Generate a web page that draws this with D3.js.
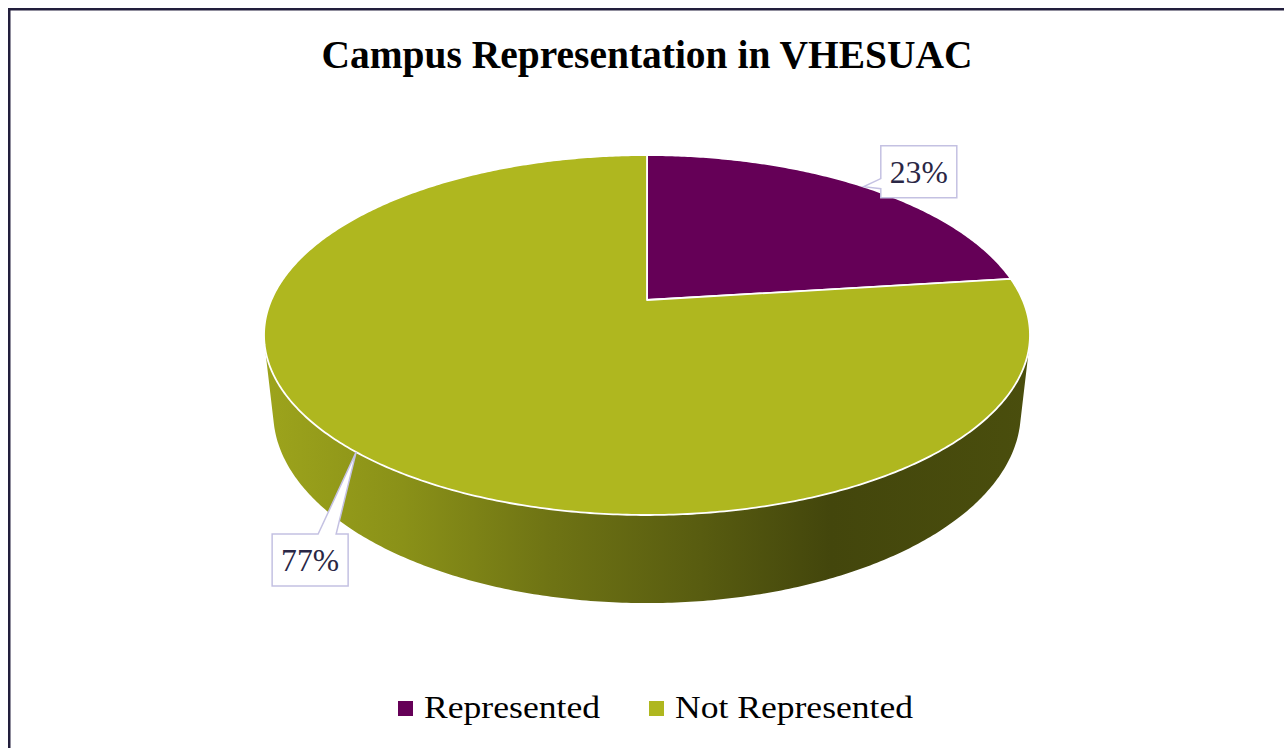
<!DOCTYPE html>
<html>
<head>
<meta charset="utf-8">
<script src="https://cdn.jsdelivr.net/npm/d3@7"></script>
<style>
  body { margin: 0; background: #fff; }
  svg { display: block; }
</style>
</head>
<body>
<div id="chart"></div>
<script>
// chart data
const categories = ["Represented", "Not Represented"];
const values = [23, 77];
const labelTexts = ["23%", "77%"];
const colors = ["#650057", "#afb71f"];

const width = 1284, height = 748;
const fontFamily = "'Palatino Linotype', 'Book Antiqua', Palatino, 'Liberation Serif', serif";

// 3d projection of the pie (tilted disk seen in perspective)
const cx = 647, cy = 300;
const focal = 1713, dist = 4.56;
const sinA = 0.461, cosA = 0.887;
const thick = 0.2345;

function project(theta, r, w) {
  const u = r * Math.sin(theta), v = r * Math.cos(theta);
  const X = u;
  const Y = v * sinA + w * cosA;
  const Z = dist + v * cosA - w * sinA;
  return [cx + focal * X / Z, cy - focal * Y / Z];
}

// angles where the cylinder wall turns away from the camera
const silAngle = Math.acos(-1 / (dist * cosA));
const visStart = silAngle, visEnd = 2 * Math.PI - silAngle;

const svg = d3.select("#chart").append("svg")
  .attr("width", width)
  .attr("height", height);

const defs = svg.append("defs");

const pie = d3.pie().sort(null).value(d => d)(values);

// side wall shading across x
const shadeStops = [0, 0.18, 0.37, 0.57, 0.74, 1];
const shadeDark = [0.3, 0.66, 1.28, 1.94, 2.7, 2.4];

colors.forEach((c, i) => {
  const grad = defs.append("linearGradient")
    .attr("id", "side" + i)
    .attr("gradientUnits", "userSpaceOnUse")
    .attr("x1", 264).attr("y1", 0)
    .attr("x2", 1030).attr("y2", 0);
  shadeStops.forEach((o, j) => {
    grad.append("stop")
      .attr("offset", o)
      .attr("stop-color", d3.color(c).darker(shadeDark[j]).formatHex());
  });
});

function arcPoints(a0, a1, r, w) {
  const n = Math.max(2, Math.ceil(Math.abs(a1 - a0) / 0.01));
  return d3.range(n + 1).map(k => project(a0 + (a1 - a0) * k / n, r, w));
}

const line = d3.line();

// side walls
const sides = svg.append("g");
pie.forEach((d, i) => {
  const a0 = Math.max(d.startAngle, visStart);
  const a1 = Math.min(d.endAngle, visEnd);
  if (a1 <= a0) return;
  const pts = arcPoints(a0, a1, 1, 0).concat(arcPoints(a1, a0, 1, -thick));
  sides.append("path")
    .attr("d", line(pts) + "Z")
    .attr("fill", `url(#side${i})`)
    .attr("stroke", "none");
});

// top faces
const tops = svg.append("g");
pie.forEach((d, i) => {
  const pts = [project(0, 0, 0)].concat(arcPoints(d.startAngle, d.endAngle, 1, 0));
  tops.append("path")
    .attr("d", line(pts) + "Z")
    .attr("fill", colors[i])
    .attr("stroke", "#ffffff")
    .attr("stroke-width", 1.8)
    .attr("stroke-linejoin", "round");
});

// data label callouts
const boxW = 76, boxH = 52;
const labelLayout = [
  { dx: 17, dy: -41, side: "left" },
  { dx: -84, dy: 82, side: "top" }
];

const labels = svg.append("g");
pie.forEach((d, i) => {
  const mid = (d.startAngle + d.endAngle) / 2;
  const tip = project(mid, 1, 0);
  const L = labelLayout[i];
  const bx = tip[0] + L.dx, by = tip[1] + L.dy;
  let pts;
  if (L.side === "left") {
    pts = [[bx, by], [bx + boxW, by], [bx + boxW, by + boxH], [bx, by + boxH],
           [bx, by + 43], tip, [bx, by + 33]];
  } else {
    pts = [[bx, by], [bx + 46, by], tip, [bx + 64, by], [bx + boxW, by],
           [bx + boxW, by + boxH], [bx, by + boxH]];
  }
  labels.append("path")
    .attr("d", line(pts) + "Z")
    .attr("fill", "#ffffff")
    .attr("stroke", "#c4c1e2")
    .attr("stroke-width", 1.5)
    .attr("stroke-linejoin", "miter");
  labels.append("text")
    .attr("x", bx + boxW / 2)
    .attr("y", by + 37)
    .attr("text-anchor", "middle")
    .attr("font-family", fontFamily)
    .attr("font-size", 31)
    .attr("fill", "#2a2745")
    .attr("textLength", 58)
    .attr("lengthAdjust", "spacingAndGlyphs")
    .text(labelTexts[i]);
});

// title
svg.append("text")
  .attr("x", 647)
  .attr("y", 68)
  .attr("text-anchor", "middle")
  .attr("font-family", fontFamily)
  .attr("font-weight", "bold")
  .attr("font-size", 39)
  .attr("fill", "#000")
  .attr("textLength", 651)
  .attr("lengthAdjust", "spacingAndGlyphs")
  .text("Campus Representation in VHESUAC");

// legend
const legendX = [398, 649];
const legendTextW = [176, 238];
const legend = svg.append("g");
categories.forEach((c, i) => {
  legend.append("rect")
    .attr("x", legendX[i])
    .attr("y", 701)
    .attr("width", 15)
    .attr("height", 15)
    .attr("fill", colors[i]);
  legend.append("text")
    .attr("x", legendX[i] + 26)
    .attr("y", 718)
    .attr("font-family", fontFamily)
    .attr("font-size", 32)
    .attr("fill", "#000")
    .attr("textLength", legendTextW[i])
    .attr("lengthAdjust", "spacingAndGlyphs")
    .text(c);
});

// chart frame (runs past the window on right and bottom)
svg.append("rect")
  .attr("x", 9.25)
  .attr("y", 9.25)
  .attr("width", 1400)
  .attr("height", 900)
  .attr("fill", "none")
  .attr("stroke", "#221e3c")
  .attr("stroke-width", 2.5);
</script>
</body>
</html>
